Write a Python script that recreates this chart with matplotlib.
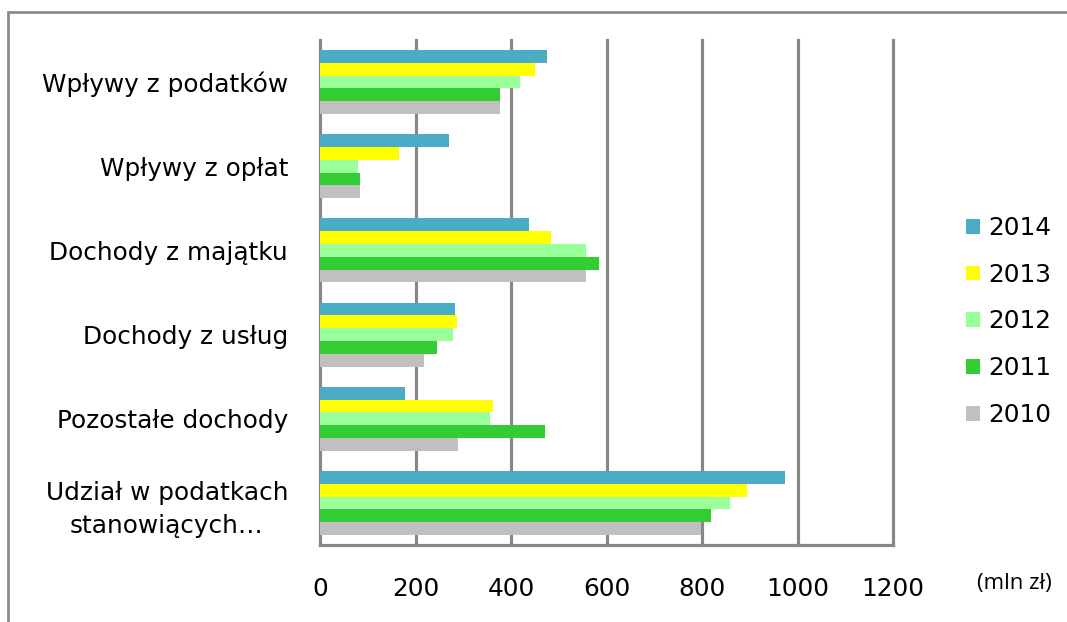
import matplotlib
matplotlib.use("Agg")
import matplotlib.pyplot as plt
import numpy as np
from matplotlib.patches import Rectangle, Patch

categories = ["Wpływy z podatków", "Wpływy z opłat", "Dochody z majątku",
              "Dochody z usług", "Pozostałe dochody",
              "Udział w podatkach\nstanowiących…"]
years = ["2014", "2013", "2012", "2011", "2010"]
v2014 = [475, 271, 438, 283, 177, 973]
v2013 = [451, 165, 483, 287, 362, 895]
v2012 = [418, 80, 557, 279, 357, 859]
v2011 = [377, 84, 585, 246, 471, 818]
v2010 = [377, 84, 557, 218, 288, 798]
series = [v2014, v2013, v2012, v2011, v2010]
colors = ["#4BACC6", "#FFFF00", "#99FF99", "#33CC33", "#C0C0C0"]
xticks = [0, 200, 400, 600, 800, 1000, 1200]

W, H = 1067, 622
fig = plt.figure(figsize=(W / 100, H / 100), dpi=100)
ax = fig.add_axes([320 / W, (H - 545) / H, (893 - 320) / W, (545 - 40) / H])

fs = 17.8
n = len(series)
bh = 0.152
y = np.arange(len(categories))
handles = []
for i, (vals, col, yr) in enumerate(zip(series, colors, years)):
    offs = (i - (n - 1) / 2) * bh
    ax.barh(y + offs, vals, height=bh, color=col, zorder=3, label=yr)
    handles.append(Patch(facecolor=col, label=yr))

ax.set_ylim(len(categories) - 0.5, -0.5)
ax.set_xlim(0, 1200)
ax.set_xticks(xticks)
ax.set_xticklabels([str(t) for t in xticks], fontsize=fs)
ax.set_yticks(y)
ax.set_yticklabels(categories, fontsize=fs, multialignment="center",
                   linespacing=1.45)
ax.tick_params(axis="x", length=0, pad=23)
ax.tick_params(axis="y", length=0, pad=23)

grid_col = "#878787"
for t in xticks:
    ax.axvline(t, color=grid_col, lw=2.3, zorder=1, clip_on=False)
for s in ["top", "right"]:
    ax.spines[s].set_visible(False)
ax.spines["left"].set_visible(False)
ax.spines["bottom"].set_color(grid_col)
ax.spines["bottom"].set_linewidth(2.3)
ax.spines["bottom"].set_zorder(4)

fig.legend(handles=handles, loc="upper left",
           bbox_to_anchor=(966 / W, (H - 216) / H),
           frameon=False, fontsize=fs, handlelength=0.55, handleheight=0.55,
           handletextpad=0.35, labelspacing=0.92, borderpad=0, borderaxespad=0)

fig.text(1014 / W, (H - 583) / H, "(mln zł)", fontsize=16, family="Open Sans",
         ha="center", va="center")

fig.add_artist(Rectangle((8 / W, -0.1), 1.2, (H - 12) / H + 0.1,
                         transform=fig.transFigure, fill=False,
                         ec="#8c8c8c", lw=2))

fig.savefig("out.png", dpi=100)
